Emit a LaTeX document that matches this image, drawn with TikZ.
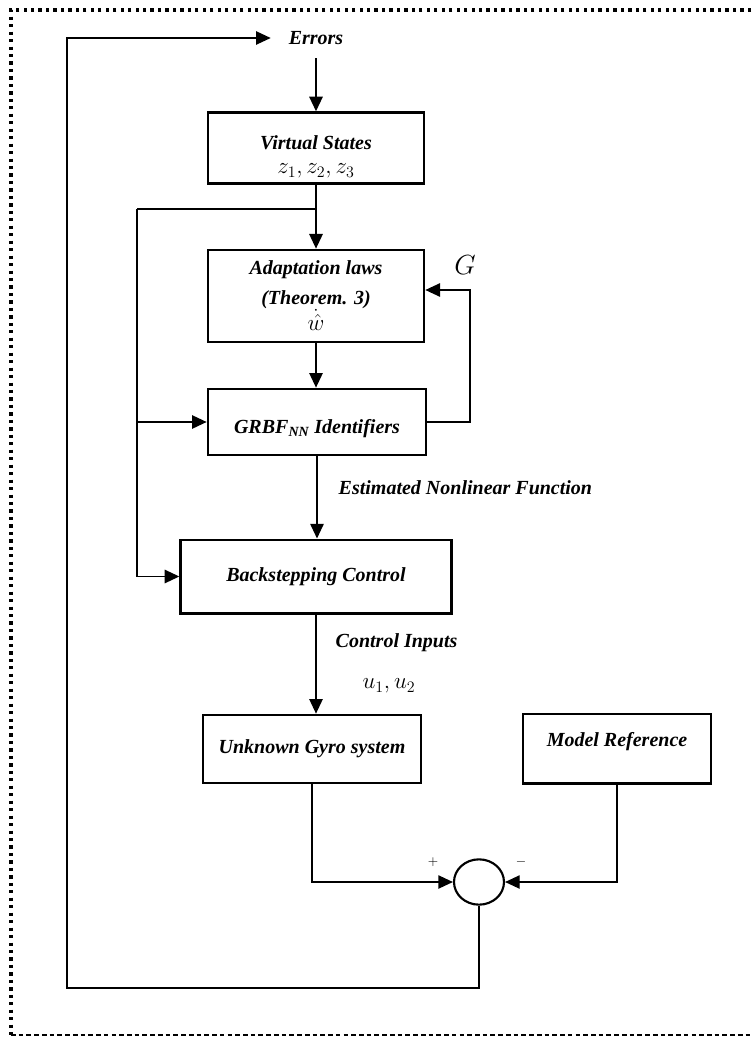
\documentclass[tikz,border=0pt]{standalone}
\usepackage{fontspec}
\setmainfont{Liberation Serif}
\usetikzlibrary{arrows.meta,shapes.geometric}

\tikzset{
  blk/.style={draw, line width=2pt, align=center, inner sep=2pt, font=\fontsize{15}{19}\selectfont\bfseries\itshape},
  lbl/.style={font=\fontsize{15}{19}\selectfont\bfseries\itshape},
  ar/.style={line width=1.4pt, -{Triangle[length=11pt,width=10pt]}},
  ln/.style={line width=1.4pt},
  thin ar/.style={line width=1.1pt, -{Triangle[length=11pt,width=10pt]}},
}

\begin{document}
\begin{tikzpicture}[x=0.75pt,y=-0.75pt] %%adaptive control loop
\useasboundingbox (0,0) rectangle (751,1037);
%%frame
\draw[line width=2.6pt, dash pattern=on 2.4pt off 3.2pt] (751,10) -- (11,10) -- (11,1035);
\draw[line width=1.1pt, dash pattern=on 3.5pt off 2.3pt] (11,1035) -- (751,1035);

%%blocks
\node[lbl] (err) at (316,38) {Errors};
\node[blk, inner ysep=0pt, minimum width=162pt, minimum height=53pt] (virt) at (316,148) {\mbox{}\\[5pt]Virtual States\\[-1pt] \normalfont\fontsize{17}{19}\selectfont$z_1,z_2,z_3$};
\node[blk, minimum width=162pt, minimum height=69pt] (adapt) at (316,296) {Adaptation laws\\[3pt] (Theorem. 3)\\ \fontsize{17}{19}\selectfont$\dot{\hat{w}}$};
\node[blk, minimum width=163.5pt, minimum height=49.5pt] (grbf) at (317,422) {\mbox{}\\[1pt]GRBF\textsubscript{NN} Identifiers};
\node[blk, minimum width=203pt, minimum height=55pt] (back) at (316,576.5) {Backstepping Control};
\node[blk, minimum width=163.5pt, minimum height=51pt] (gyro) at (312,749) {Unknown Gyro system};
\node[blk, minimum width=141pt, minimum height=52pt] (model) at (617,748.5) {Model Reference\\[-6pt]\mbox{}};
\node[draw, ellipse, line width=1.6pt, minimum width=37.5pt, minimum height=34pt, inner sep=0pt] (sum) at (479,882) {};

%%labels
\node[lbl, anchor=west] (est) at (334,488) {Estimated Nonlinear Function};
\node[lbl, anchor=west] (ci) at (331,643) {Control Inputs};
\node (uu) at (389,686) {\fontsize{18}{20}\selectfont$u_1,u_2$};
\node (gg) at (465,265) {\fontsize{21}{23}\selectfont$G$};
\node (pl) at (433,862) {$+$};
\node (mi) at (521,862) {$-$};

%%connections
\coordinate (fbTL) at (67,38);
\coordinate (fbBL) at (67,988);
\draw[thin ar, shorten >=10pt] (sum.south) |- (fbBL) -- (fbTL) -- (err.west);
\draw[ar, shorten <=6.5pt] (err.south) -- (err.south |- virt.north);
\draw[ar] (virt.south) -- (adapt.north);
\coordinate (brA) at (316,209);
\coordinate (brB) at (137,209);
\draw[ln] (brA) -- (brB);
\draw[ar] (brB) |- (back.west);
\draw[ar] (brB |- grbf.west) -- (grbf.west);
\draw[ar] (adapt.south) -- (adapt.south |- grbf.north);
\coordinate (gR) at (470,290);
\draw[thin ar] (grbf.east) -| (gR) -- (adapt.east |- gR);
\draw[ar] (grbf.south) -- (grbf.south |- back.north);
\draw[ar] (back.south) -- (back.south |- gyro.north);
\draw[thin ar] (gyro.south) |- (sum.west);
\draw[thin ar] (model.south) |- (sum.east);
\end{tikzpicture}
\end{document}
